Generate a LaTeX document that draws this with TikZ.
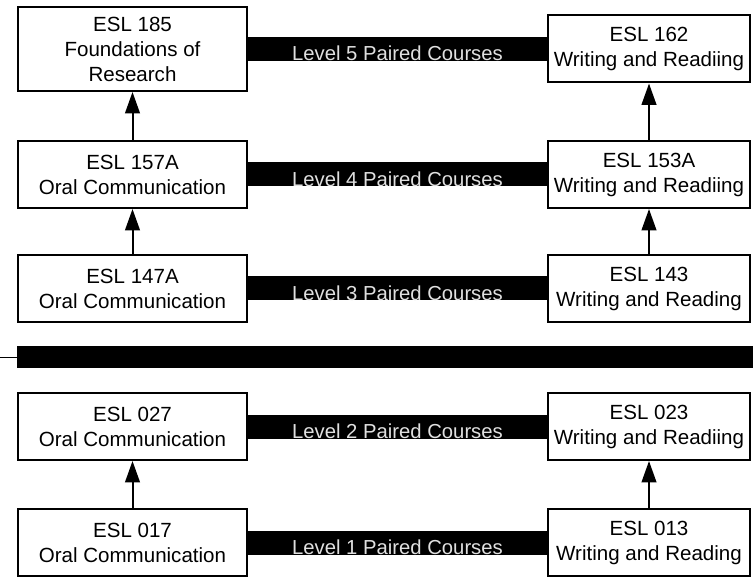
\documentclass[tikz,border=0pt]{standalone}
\usepackage{fontspec}
\setmainfont{Liberation Sans}
\usetikzlibrary{positioning, calc, arrows.meta}

\begin{document}
\begin{tikzpicture}[->,>={Triangle[length=16pt,width=11pt]},line width=1.5pt]
	\tikzstyle{course} = [draw,rectangle,align=center,inner sep=2pt,minimum width=151.5pt,minimum height=50.25pt,font=\fontsize{15.4pt}{18.75pt}\selectfont]
	\tikzstyle{oral} = [course,minimum width=171.75pt]
	\tikzstyle{pairbar} = [-,line width=18pt]
	\tikzstyle{barlabel} = [text=white!88!black,inner sep=0pt,yshift=-3.4pt,font=\fontsize{15.2pt}{18pt}\selectfont]
	\tikzstyle{divider} = [-,line width=16.5pt]
	\useasboundingbox (0,0) rectangle (564.75pt,-438pt);
	\node[oral,minimum height=63pt]	(l1) at (99.375pt,-36.75pt)	{ESL 185\\Foundations of\\Research};
	\node[course]	(r1) [right=224.25pt of l1]	{ESL 162\\Writing and Readiing};
	\node[oral]		(l2) [below=36pt of l1]		{ESL 157A\\Oral Communication};
	\node[course]	(r2) [right=224.25pt of l2]	{ESL 153A\\Writing and Readiing};
	\node[oral]		(l3) [below=33.75pt of l2]	{ESL 147A\\Oral Communication};
	\node[course]	(r3) [right=224.25pt of l3]	{ESL 143\\Writing and Reading};
	\node[oral]		(l4) [below=51.75pt of l3]	{ESL 027\\Oral Communication};
	\node[course]	(r4) [right=224.25pt of l4]	{ESL 023\\Writing and Readiing};
	\node[oral]		(l5) [below=35.25pt of l4]	{ESL 017\\Oral Communication};
	\node[course]	(r5) [right=224.25pt of l5]	{ESL 013\\Writing and Reading};
	% paired courses
	\draw[pairbar] (l1.east) -- node[barlabel] {Level 5 Paired Courses} (r1.west);
	\draw[pairbar] (l2.east) -- node[barlabel] {Level 4 Paired Courses} (r2.west);
	\draw[pairbar] (l3.east) -- node[barlabel] {Level 3 Paired Courses} (r3.west);
	\draw[pairbar] (l4.east) -- node[barlabel] {Level 2 Paired Courses} (r4.west);
	\draw[pairbar] (l5.east) -- node[barlabel] {Level 1 Paired Courses} (r5.west);
	% divider
	\coordinate (divA) at ($(l3.south west)!0.5!(l4.north west)$);
	\coordinate (divL) at ($(divA)+(-14pt,0)$);
	\coordinate (divB) at ($(divA -| r3.east)+(10pt,0)$);
	\draw[-,line width=1pt] (divL) -- (divA);
	\draw[divider] (divA) -- (divB);
	\path	(l2) edge (l1)
			(l3) edge (l2)
			(l5) edge (l4)
			(r2) edge (r1)
			(r3) edge (r2)
			(r5) edge (r4);
\end{tikzpicture}
\end{document}
